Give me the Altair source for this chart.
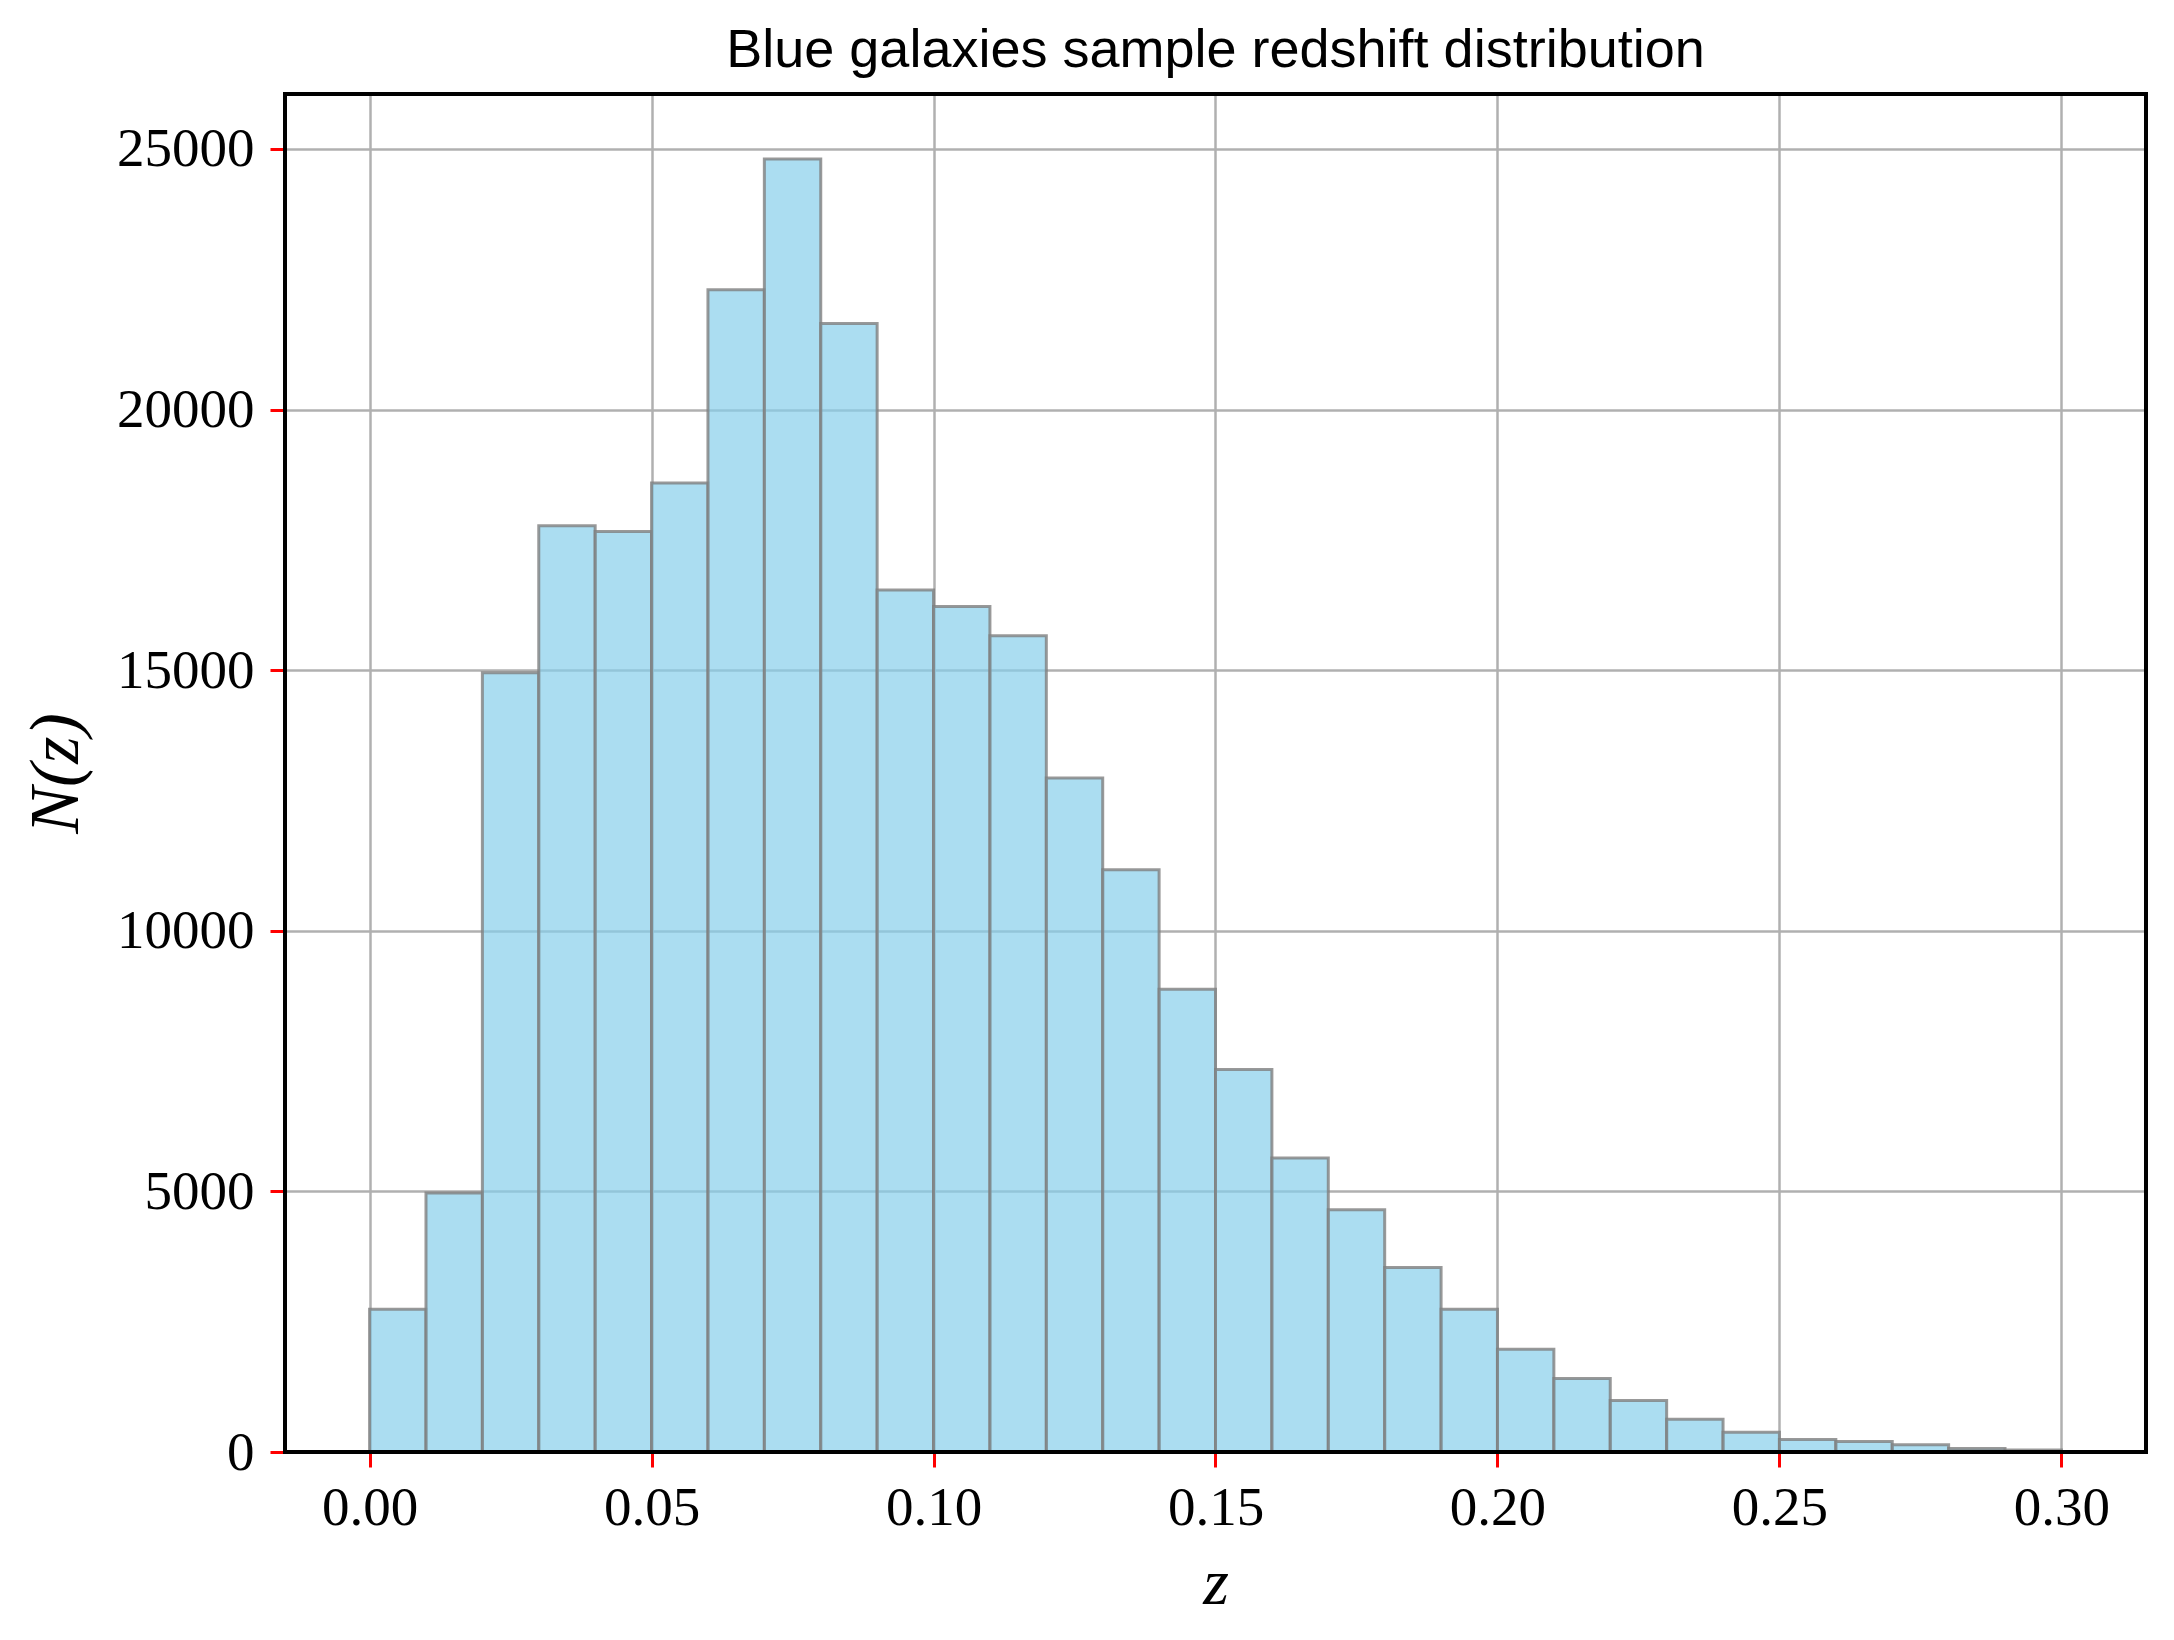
import altair as alt
import pandas as pd

bin_start = [0.00, 0.01, 0.02, 0.03, 0.04, 0.05, 0.06, 0.07, 0.08, 0.09,
             0.10, 0.11, 0.12, 0.13, 0.14, 0.15, 0.16, 0.17, 0.18, 0.19,
             0.20, 0.21, 0.22, 0.23, 0.24, 0.25, 0.26, 0.27, 0.28, 0.29]
bin_end = [0.01, 0.02, 0.03, 0.04, 0.05, 0.06, 0.07, 0.08, 0.09, 0.10,
           0.11, 0.12, 0.13, 0.14, 0.15, 0.16, 0.17, 0.18, 0.19, 0.20,
           0.21, 0.22, 0.23, 0.24, 0.25, 0.26, 0.27, 0.28, 0.29, 0.30]
counts = [2740, 4970, 14950, 17770, 17660, 18590, 22300, 24810, 21650, 16540,
          16220, 15660, 12930, 11170, 8880, 7340, 5640, 4650, 3540, 2740,
          1970, 1410, 990, 630, 380, 240, 200, 140, 65, 40]

x_ticks = [0.00, 0.05, 0.10, 0.15, 0.20, 0.25, 0.30]
y_ticks = [0, 5000, 10000, 15000, 20000, 25000]

W, H = 1861, 1358

df = pd.DataFrame({"z0": bin_start, "z1": bin_end, "n": counts})

bars = alt.Chart(df).mark_rect(
    fill="skyblue", fillOpacity=0.7, stroke="gray", strokeOpacity=0.8, strokeWidth=3
).encode(
    x=alt.X("z0:Q",
            scale=alt.Scale(domain=[-0.015, 0.315], nice=False, zero=False),
            axis=alt.Axis(values=x_ticks, format=".2f", title="z",
                          titleFont="Liberation Serif", titleFontStyle="italic",
                          titleFontSize=66, titleFontWeight="normal",
                          titlePadding=16, labelPadding=14)),
    x2="z1:Q",
    y=alt.Y("n:Q",
            scale=alt.Scale(domain=[0, 26055], nice=False),
            axis=alt.Axis(values=y_ticks, format="d", title="N(z)",
                          titleFont="Liberation Serif", titleFontStyle="italic",
                          titleFontSize=70, titleFontWeight="normal",
                          titlePadding=24, labelPadding=16)),
    y2=alt.datum(0),
)

frame = alt.Chart(df).mark_rect(
    fill=None, stroke="black", strokeWidth=3
).encode(
    x=alt.value(0), x2=alt.value(W), y=alt.value(0), y2=alt.value(H)
)

chart = alt.layer(bars, frame).properties(
    width=W,
    height=H,
    title=alt.Title("Blue galaxies sample redshift distribution",
                    font="Liberation Sans", fontSize=54, fontWeight="normal",
                    color="black", offset=15, anchor="middle"),
    autosize=alt.AutoSizeParams(type="none"),
    padding={"left": 277, "top": 86, "right": 20, "bottom": 180},
).configure_view(
    stroke=None
).configure_axis(
    domain=False,
    grid=True, gridColor="#b0b0b0", gridWidth=2.5,
    ticks=True, tickColor="red", tickWidth=3, tickSize=15,
    labelFont="Liberation Serif", labelFontSize=55, labelColor="black",
    titleColor="black",
)

chart.save("out.html", embed_options={"renderer": "svg", "actions": False})
